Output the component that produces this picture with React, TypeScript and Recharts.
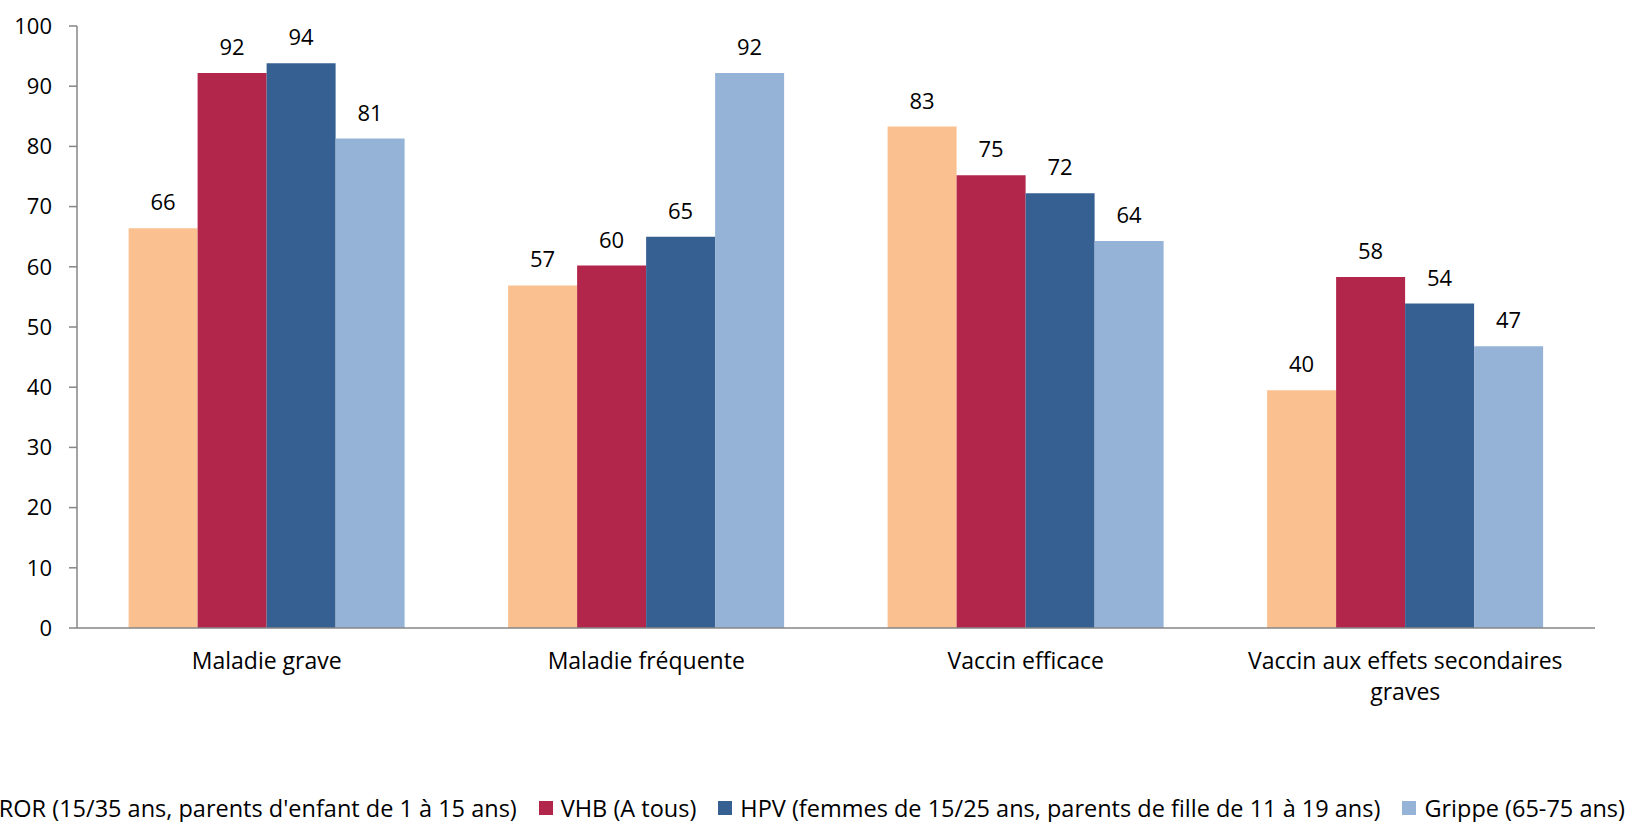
import { BarChart, Bar, XAxis, YAxis, LabelList } from 'recharts'

// line breaks as in the original axis labels
const categories = [
  'Maladie grave',
  'Maladie fréquente',
  'Vaccin efficace',
  'Vaccin aux effets secondaires\ngraves',
]
const ror = [66.4, 56.9, 83.3, 39.5]
const vhb = [92.2, 60.2, 75.2, 58.3]
const hpv = [93.8, 65.0, 72.2, 53.9]
const grippe = [81.3, 92.2, 64.3, 46.8]

const yTicks = [0, 10, 20, 30, 40, 50, 60, 70, 80, 90, 100]
const edgeTicks = [0, 1, 2, 3, 4]

const series = [
  { key: 'ror', name: "ROR (15/35 ans, parents d'enfant de 1 à 15 ans)", color: '#FAC090' },
  { key: 'vhb', name: 'VHB (A tous)', color: '#B3264C' },
  { key: 'hpv', name: 'HPV (femmes de 15/25 ans, parents de fille de 11 à 19 ans)', color: '#376092' },
  { key: 'grippe', name: 'Grippe (65-75 ans)', color: '#95B3D7' },
]

const data = categories.map((name, i) => ({
  name,
  ror: ror[i],
  vhb: vhb[i],
  hpv: hpv[i],
  grippe: grippe[i],
}))

const FONT = '"Open Sans", sans-serif'
const AXIS = '#868686'

function CategoryTick(props: any) {
  const { x, y, payload } = props
  const lines = String(payload.value).split('\n')
  return (
    <text x={x} y={y + 40} textAnchor="middle" fill="#000" fontSize={23} fontFamily={FONT}>
      {lines.map((line, i) => (
        <tspan key={i} x={x} dy={i === 0 ? 0 : 31}>
          {line}
        </tspan>
      ))}
    </text>
  )
}

export default function App() {
  return (
    <div style={{ position: 'absolute', left: 0, top: 0, width: 1627, height: 822, background: '#fff', fontFamily: FONT }}>
      <BarChart
        width={1627}
        height={822}
        data={data}
        margin={{ top: 26, right: 32, left: 0, bottom: 73 }}
        barCategoryGap="13.6%"
        barGap={0}
      >
        <XAxis
          xAxisId="a"
          type="number"
          domain={[0, 4]}
          ticks={edgeTicks}
          tick={false}
          tickSize={8}
          height={1}
          axisLine={{ stroke: AXIS, strokeWidth: 1.5 }}
          tickLine={{ stroke: AXIS, strokeWidth: 1.5 }}
        />
        <XAxis
          xAxisId="b"
          dataKey="name"
          axisLine={false}
          tickLine={false}
          tickSize={0}
          tickMargin={0}
          height={120}
          interval={0}
          tick={(p: any) => <CategoryTick {...p} />}
        />
        <YAxis
          domain={[0, 100]}
          ticks={yTicks}
          interval={0}
          width={77}
          tickSize={8}
          tickMargin={17}
          axisLine={{ stroke: AXIS, strokeWidth: 1.5 }}
          tickLine={{ stroke: AXIS, strokeWidth: 1.5 }}
          tick={{ fill: '#000', fontSize: 22, fontFamily: FONT }}
        />
        {series.map((s) => (
          <Bar
            key={s.key}
            xAxisId="b"
            dataKey={s.key}
            name={s.name}
            fill={s.color}
            isAnimationActive={false}
          >
            <LabelList
              dataKey={s.key}
              position="top"
              offset={18}
              formatter={(v: any) => Math.round(Number(v))}
              fill="#000"
              fontSize={22}
              fontFamily={FONT}
            />
          </Bar>
        ))}
      </BarChart>
      <div
        style={{
          position: 'absolute',
          left: 0,
          top: 796,
          width: 1625,
          height: 24,
          display: 'flex',
          justifyContent: 'flex-end',
          alignItems: 'center',
          whiteSpace: 'nowrap',
          fontSize: 23.5,
          lineHeight: '24px',
          color: '#000',
        }}
      >
        {series.map((s, i) => (
          <div key={s.key} style={{ display: 'flex', alignItems: 'center', marginLeft: i === 0 ? 0 : 22, flexShrink: 0 }}>
            <span style={{ width: 14, height: 14, background: s.color, marginRight: 8, display: 'inline-block' }} />
            <span>{s.name}</span>
          </div>
        ))}
      </div>
    </div>
  )
}
